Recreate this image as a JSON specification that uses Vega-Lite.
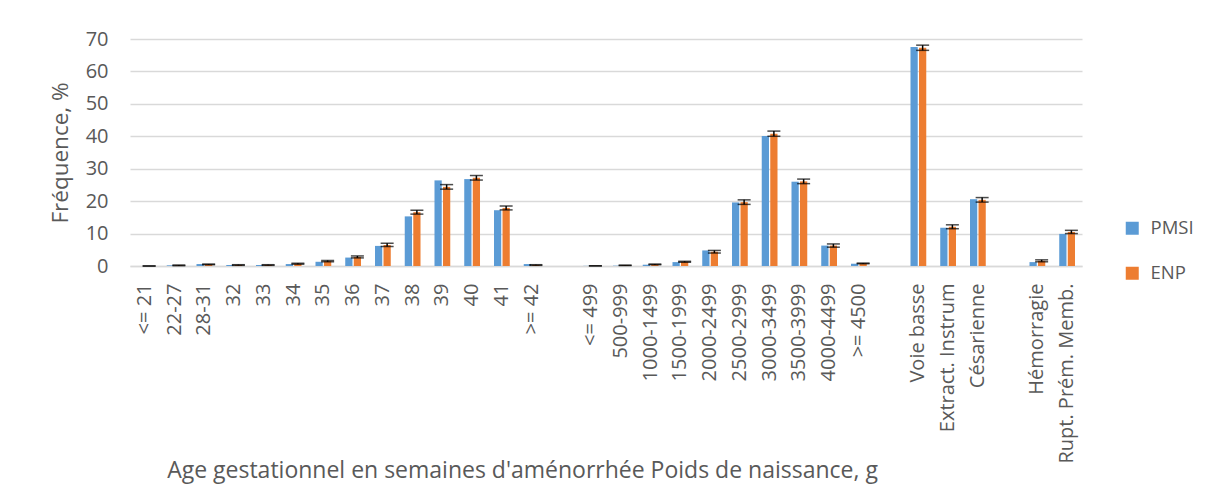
{
  "$schema": "https://vega.github.io/schema/vega-lite/v6.json",
  "autosize": {"type": "none"},
  "padding": {"left": 130, "top": 39, "right": 123, "bottom": 218},
  "width": 952,
  "height": 227,
  "background": "white",
  "config": {
    "font": "Open Sans",
    "view": {"stroke": null},
    "axis": {"labelColor": "#595959", "titleColor": "#595959", "titleFontWeight": "normal"},
    "legend": {"labelColor": "#595959"}
  },
  "resolve": {"axis": {"y": "independent"}},
  "data": {"values": [
    {"cat": "<= 21", "src": "PMSI", "value": 0.0},
    {"cat": "<= 21", "src": "ENP", "value": 0.0, "lo": 0.0, "hi": 0.0},
    {"cat": "22-27", "src": "PMSI", "value": 0.2},
    {"cat": "22-27", "src": "ENP", "value": 0.2, "lo": 0.1, "hi": 0.3},
    {"cat": "28-31", "src": "PMSI", "value": 0.6},
    {"cat": "28-31", "src": "ENP", "value": 0.5, "lo": 0.4, "hi": 0.6},
    {"cat": "32", "src": "PMSI", "value": 0.3},
    {"cat": "32", "src": "ENP", "value": 0.3, "lo": 0.2, "hi": 0.4},
    {"cat": "33", "src": "PMSI", "value": 0.3},
    {"cat": "33", "src": "ENP", "value": 0.3, "lo": 0.2, "hi": 0.4},
    {"cat": "34", "src": "PMSI", "value": 0.6},
    {"cat": "34", "src": "ENP", "value": 0.7, "lo": 0.55, "hi": 0.85},
    {"cat": "35", "src": "PMSI", "value": 1.3},
    {"cat": "35", "src": "ENP", "value": 1.5, "lo": 1.3, "hi": 1.7},
    {"cat": "36", "src": "PMSI", "value": 2.6},
    {"cat": "36", "src": "ENP", "value": 2.8, "lo": 2.5, "hi": 3.1},
    {"cat": "37", "src": "PMSI", "value": 6.2},
    {"cat": "37", "src": "ENP", "value": 6.5, "lo": 6.0, "hi": 7.0},
    {"cat": "38", "src": "PMSI", "value": 15.3},
    {"cat": "38", "src": "ENP", "value": 16.6, "lo": 16.0, "hi": 17.2},
    {"cat": "39", "src": "PMSI", "value": 26.4},
    {"cat": "39", "src": "ENP", "value": 24.4, "lo": 23.7, "hi": 25.1},
    {"cat": "40", "src": "PMSI", "value": 26.8},
    {"cat": "40", "src": "ENP", "value": 27.2, "lo": 26.5, "hi": 27.9},
    {"cat": "41", "src": "PMSI", "value": 17.2},
    {"cat": "41", "src": "ENP", "value": 17.9, "lo": 17.3, "hi": 18.5},
    {"cat": ">= 42", "src": "PMSI", "value": 0.6},
    {"cat": ">= 42", "src": "ENP", "value": 0.3, "lo": 0.2, "hi": 0.4},
    {"cat": "<= 499", "src": "PMSI", "value": 0.05},
    {"cat": "<= 499", "src": "ENP", "value": 0.05, "lo": 0.05, "hi": 0.05},
    {"cat": "500-999", "src": "PMSI", "value": 0.1},
    {"cat": "500-999", "src": "ENP", "value": 0.2, "lo": 0.15, "hi": 0.25},
    {"cat": "1000-1499", "src": "PMSI", "value": 0.4},
    {"cat": "1000-1499", "src": "ENP", "value": 0.5, "lo": 0.4, "hi": 0.6},
    {"cat": "1500-1999", "src": "PMSI", "value": 1.2},
    {"cat": "1500-1999", "src": "ENP", "value": 1.3, "lo": 1.15, "hi": 1.45},
    {"cat": "2000-2499", "src": "PMSI", "value": 4.8},
    {"cat": "2000-2499", "src": "ENP", "value": 4.4, "lo": 4.0, "hi": 4.8},
    {"cat": "2500-2999", "src": "PMSI", "value": 19.6},
    {"cat": "2500-2999", "src": "ENP", "value": 19.7, "lo": 19.0, "hi": 20.4},
    {"cat": "3000-3499", "src": "PMSI", "value": 40.1},
    {"cat": "3000-3499", "src": "ENP", "value": 40.8, "lo": 40.0, "hi": 41.6},
    {"cat": "3500-3999", "src": "PMSI", "value": 26.0},
    {"cat": "3500-3999", "src": "ENP", "value": 26.1, "lo": 25.4, "hi": 26.8},
    {"cat": "4000-4499", "src": "PMSI", "value": 6.3},
    {"cat": "4000-4499", "src": "ENP", "value": 6.3, "lo": 5.8, "hi": 6.8},
    {"cat": ">= 4500", "src": "PMSI", "value": 0.7},
    {"cat": ">= 4500", "src": "ENP", "value": 0.8, "lo": 0.7, "hi": 0.9},
    {"cat": "Voie basse", "src": "PMSI", "value": 67.5},
    {"cat": "Voie basse", "src": "ENP", "value": 67.3, "lo": 66.5, "hi": 68.1},
    {"cat": "Extract. Instrum", "src": "PMSI", "value": 11.8},
    {"cat": "Extract. Instrum", "src": "ENP", "value": 12.1, "lo": 11.5, "hi": 12.7},
    {"cat": "Césarienne", "src": "PMSI", "value": 20.6},
    {"cat": "Césarienne", "src": "ENP", "value": 20.4, "lo": 19.7, "hi": 21.1},
    {"cat": "Hémorragie", "src": "PMSI", "value": 1.2},
    {"cat": "Hémorragie", "src": "ENP", "value": 1.6, "lo": 1.3, "hi": 1.9},
    {"cat": "Rupt. Prém. Memb.", "src": "PMSI", "value": 9.9},
    {"cat": "Rupt. Prém. Memb.", "src": "ENP", "value": 10.5, "lo": 10.0, "hi": 11.0}
  ]},
  "encoding": {
    "x": {
      "field": "cat", "type": "nominal", "sort": null,
      "scale": {
        "domain": ["<= 21", "22-27", "28-31", "32", "33", "34", "35", "36", "37", "38", "39", "40", "41", ">= 42", "gap1",
                   "<= 499", "500-999", "1000-1499", "1500-1999", "2000-2499", "2500-2999", "3000-3499", "3500-3999", "4000-4499", ">= 4500", "gap2",
                   "Voie basse", "Extract. Instrum", "Césarienne", "gap3", "Hémorragie", "Rupt. Prém. Memb."],
        "paddingInner": 0.47, "paddingOuter": 0.235
      },
      "axis": {
        "title": "Age gestationnel en semaines d'aménorrhée Poids de naissance, g",
        "titleFontSize": 23, "titleX": 392, "titleY": 204, "titleAlign": "center", "titleBaseline": "middle", "titleAnchor": null,
        "labelAngle": -90, "labelAlign": "right", "labelBaseline": "middle", "labelFontSize": 20, "labelPadding": 17,
        "labelOverlap": false, "labelLimit": 400,
        "labelExpr": "test(/^gap/, datum.label) ? '' : datum.label",
        "ticks": false, "domainColor": "#d9d9d9", "domainWidth": 1.5, "grid": false
      }
    },
    "xOffset": {"field": "src", "type": "nominal", "scale": {"domain": ["PMSI", "ENP"], "paddingInner": 0.15}}
  },
  "layer": [
    {
      "mark": {"type": "bar"},
      "encoding": {
        "y": {
          "field": "value", "type": "quantitative",
          "scale": {"domain": [0, 70], "nice": false},
          "axis": {
            "values": [0, 10, 20, 30, 40, 50, 60, 70],
            "labelOverlap": false,
            "title": "Fréquence, %", "titleFontSize": 22.5, "titleX": -70, "titleY": 113.5, "titleAngle": -90,
            "titleAlign": "center", "titleBaseline": "middle",
            "labelFontSize": 20, "labelPadding": 22, "ticks": false, "domain": false,
            "gridColor": "#d9d9d9", "gridWidth": 1.5
          }
        },
        "color": {
          "field": "src", "type": "nominal",
          "scale": {"domain": ["PMSI", "ENP"], "range": ["#5B9BD5", "#ED7D31"]},
          "legend": {
            "title": null, "orient": "none", "legendX": 993, "legendY": 180,
            "symbolType": "square", "symbolSize": 169, "symbolStrokeWidth": 0,
            "labelFontSize": 18.5, "rowPadding": 26, "labelOffset": 9
          }
        }
      }
    },
    {
      "transform": [{"filter": "datum.src == 'ENP'"}],
      "mark": {"type": "rule", "color": "black", "strokeWidth": 1.5},
      "encoding": {
        "y": {"field": "lo", "type": "quantitative", "axis": null},
        "y2": {"field": "hi"}
      }
    },
    {
      "transform": [{"filter": "datum.src == 'ENP'"}],
      "mark": {"type": "tick", "color": "black", "size": 13, "thickness": 1.5, "orient": "horizontal"},
      "encoding": {"y": {"field": "lo", "type": "quantitative", "axis": null}}
    },
    {
      "transform": [{"filter": "datum.src == 'ENP'"}],
      "mark": {"type": "tick", "color": "black", "size": 13, "thickness": 1.5, "orient": "horizontal"},
      "encoding": {"y": {"field": "hi", "type": "quantitative", "axis": null}}
    }
  ]
}
